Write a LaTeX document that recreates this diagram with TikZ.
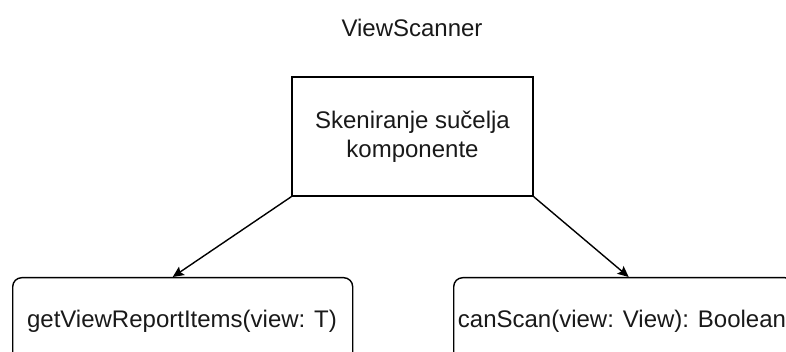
\documentclass[tikz,border=0pt]{standalone}
\usepackage{fontspec}
\setmainfont{Liberation Sans}
\usetikzlibrary{arrows.meta,calc}
\begin{document}
\begin{tikzpicture}[x=1pt,y=-1pt,
  every node/.style={font=\fontsize{24}{29}\selectfont, text=black!90},
  mainbox/.style={draw, line width=1.4pt, minimum width=241pt, minimum height=119pt, align=center, inner sep=0pt},
  funcbox/.style={draw, line width=1.4pt, rounded corners=9pt, minimum width=340pt, minimum height=88pt, inner sep=0pt},
  conn/.style={line width=1.4pt, -{Stealth[length=11pt,width=10pt,inset=2pt]}}]
\useasboundingbox (0,0) rectangle (786,352);
\clip (0,0) rectangle (786,352);
\node (title) at (412,28) {ViewScanner};
\node[mainbox] (main) at (412.5,136.5) {Skeniranje sučelja\\komponente};
\node[funcbox, anchor=north west] (left) at (12,277) {};
\node[funcbox, anchor=north west] (right) at (453,277) {};
\node (lt) at ($(left.north west)+(170,44)$) {getViewReportItems(view: T)};
\node (rt) at ($(right.north west)+(169,44)$) {canScan(view: View): Boolean};
\coordinate (la) at ($(left.north)+(-10,0)$);
\coordinate (ra) at ($(right.north)+(5,0)$);
\draw[conn] (main.south west) -- (la);
\draw[conn] (main.south east) -- (ra);
\end{tikzpicture}
\end{document}
